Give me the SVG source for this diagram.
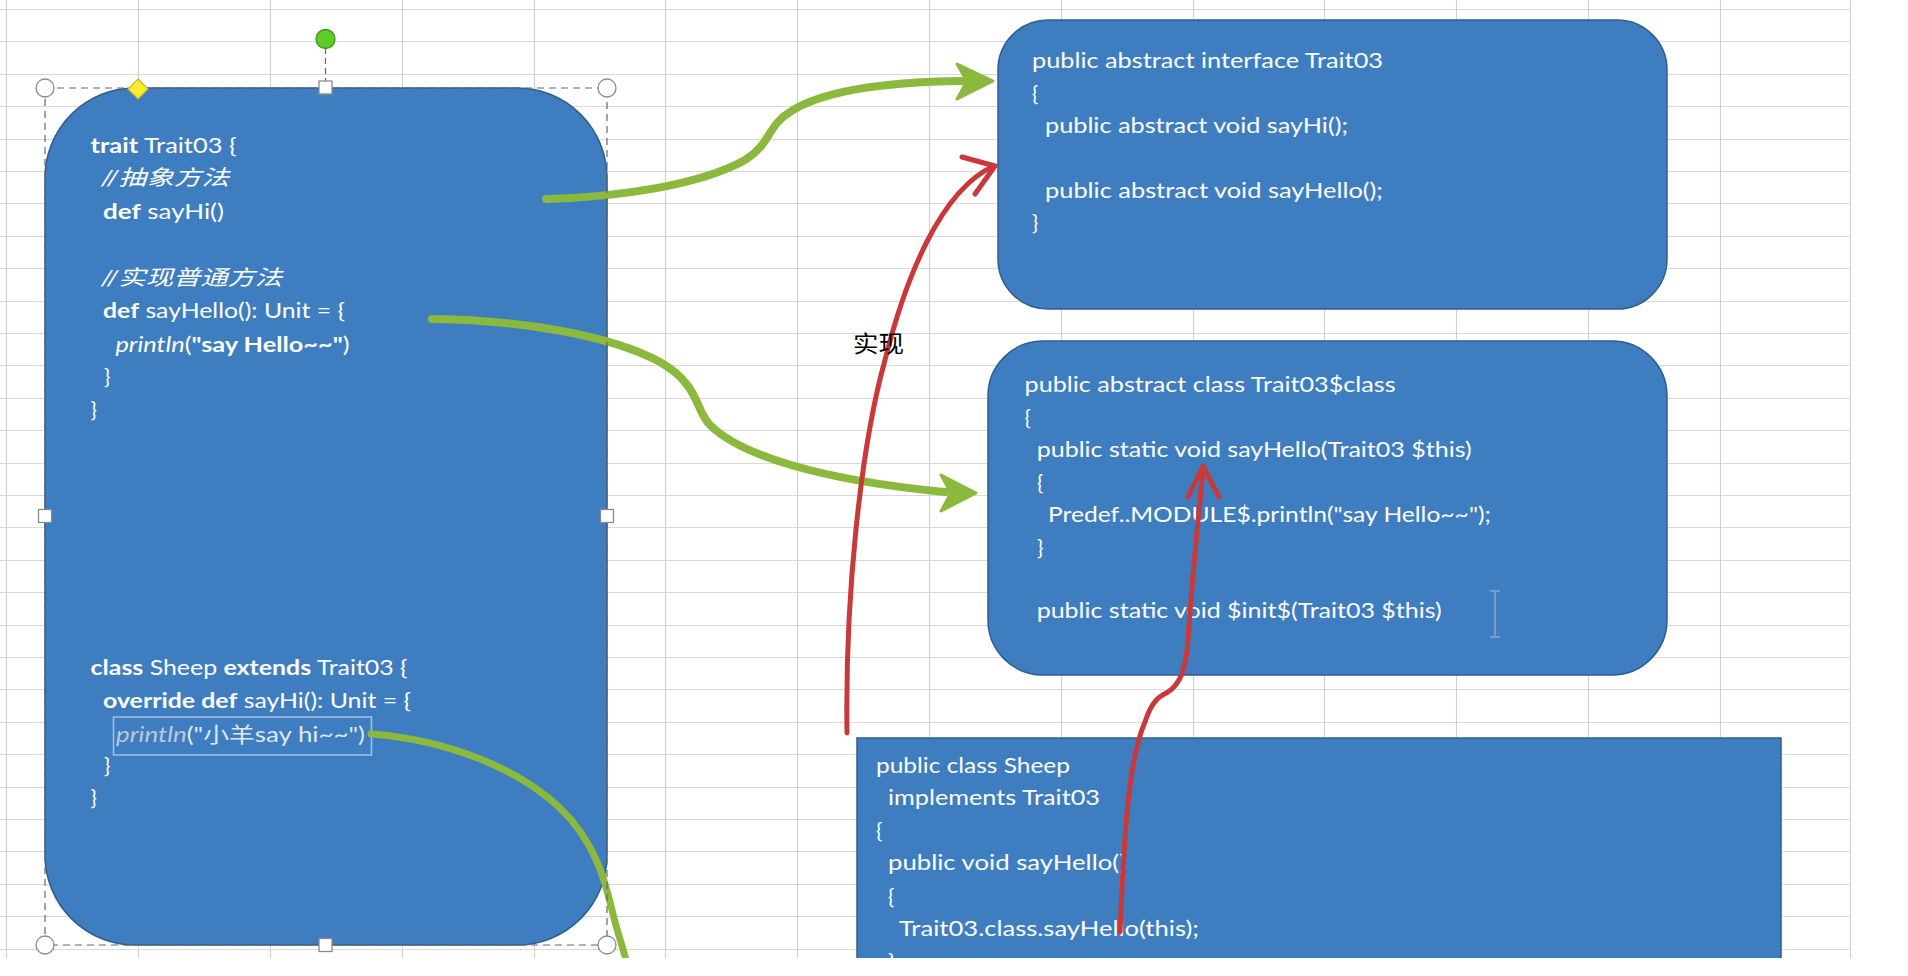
<svg xmlns="http://www.w3.org/2000/svg" width="1908" height="976" viewBox="0 0 1908 976">
<style>
.grid{stroke:#d9d9d9;stroke-width:1;fill:none}
.vgrid{stroke:#d2d2d2;stroke-width:1.2;fill:none}
.box{fill:#3e7ec0;stroke:#2f5e8e;stroke-width:1.5}
.code{font-family:Lato,'Noto Sans CJK SC',sans-serif;font-size:21px;fill:#ffffff}
.b{font-weight:bold}
.i{font-style:italic}
.green{fill:none;stroke:#8ab93e;stroke-width:8;stroke-linecap:round}
.greenhead{fill:#8ab93e;stroke:#8ab93e;stroke-width:3;stroke-linejoin:round}
.red{fill:none;stroke:#c9393c;stroke-width:5;stroke-linecap:round;stroke-linejoin:round}
.handle{fill:#ffffff;stroke:#8a8a8a;stroke-width:1.3}
</style>
<rect x="0" y="0" width="1908" height="976" fill="#ffffff"/>
<g id="grid">
<path class="grid" d="M0 9.5H1850M0 41.5H1850M0 74.5H1850M0 106.5H1850M0 139.5H1850M0 171.5H1850M0 203.5H1850M0 236.5H1850M0 268.5H1850M0 301.5H1850M0 333.5H1850M0 365.5H1850M0 398.5H1850M0 430.5H1850M0 463.5H1850M0 495.5H1850M0 527.5H1850M0 560.5H1850M0 592.5H1850M0 625.5H1850M0 657.5H1850M0 689.5H1850M0 722.5H1850M0 754.5H1850M0 787.5H1850M0 819.5H1850M0 851.5H1850M0 884.5H1850M0 916.5H1850M0 949.5H1850"/>
<path class="vgrid" d="M6.5 0V958M138.5 0V958M270.5 0V958M402.5 0V958M534.5 0V958M665.5 0V958M797.5 0V958M929.5 0V958M1061.5 0V958M1193.5 0V958M1324.5 0V958M1456.5 0V958M1588.5 0V958M1720.5 0V958M1850.5 0V958"/>
</g>
<g id="trait-box">
<rect class="box" x="45" y="88" width="562" height="857" rx="90" ry="90"/>
<text class="code" x="90.6" y="153" textLength="146" lengthAdjust="spacingAndGlyphs"><tspan class="b">trait</tspan> Trait03 {</text>
<text class="code i" x="101" y="185" textLength="128" lengthAdjust="spacingAndGlyphs">//抽象方法</text>
<text class="code" x="103" y="219" textLength="121" lengthAdjust="spacingAndGlyphs"><tspan class="b">def</tspan> sayHi()</text>
<text class="code i" x="101" y="285" textLength="181" lengthAdjust="spacingAndGlyphs">//实现普通方法</text>
<text class="code" x="103" y="318" textLength="242" lengthAdjust="spacingAndGlyphs"><tspan class="b">def</tspan> sayHello(): Unit = {</text>
<text class="code" x="115.5" y="352" textLength="234" lengthAdjust="spacingAndGlyphs"><tspan class="i">println</tspan>(<tspan class="b">"say Hello~~"</tspan>)</text>
<text class="code" x="104" y="384">}</text>
<text class="code" x="90.6" y="417">}</text>
<text class="code" x="90.6" y="675" textLength="317" lengthAdjust="spacingAndGlyphs"><tspan class="b">class</tspan> Sheep <tspan class="b">extends</tspan> Trait03 {</text>
<text class="code" x="103" y="708" textLength="308" lengthAdjust="spacingAndGlyphs"><tspan class="b">override def</tspan> sayHi(): Unit = {</text>
<rect x="113.5" y="717" width="258" height="38" fill="none" stroke="#a9c0dc" stroke-width="1.5"/>
<text class="code" x="116" y="742" textLength="249" lengthAdjust="spacingAndGlyphs" style="fill:#dfe7f1"><tspan class="i" style="fill:#b9c8da">println</tspan>("小羊say hi~~")</text>
<text class="code" x="104" y="773">}</text>
<text class="code" x="90.6" y="805">}</text>
</g>
<g id="interface-box">
<rect class="box" x="998" y="20" width="669" height="289" rx="50" ry="50"/>
<text class="code" x="1032" y="68" textLength="351" lengthAdjust="spacingAndGlyphs">public abstract interface Trait03</text>
<text class="code" x="1032" y="101">{</text>
<text class="code" x="1045" y="133" textLength="303" lengthAdjust="spacingAndGlyphs">public abstract void sayHi();</text>
<text class="code" x="1045" y="198" textLength="338" lengthAdjust="spacingAndGlyphs">public abstract void sayHello();</text>
<text class="code" x="1032" y="230">}</text>
</g>
<g id="trait-class-box">
<rect class="box" x="988" y="341" width="679" height="334" rx="55" ry="55"/>
<text class="code" x="1024.6" y="392" textLength="371" lengthAdjust="spacingAndGlyphs">public abstract class Trait03$class</text>
<text class="code" x="1024.6" y="425">{</text>
<text class="code" x="1036.7" y="457" textLength="435" lengthAdjust="spacingAndGlyphs">public static void sayHello(Trait03 $this)</text>
<text class="code" x="1037" y="490">{</text>
<text class="code" x="1048" y="522" textLength="443" lengthAdjust="spacingAndGlyphs">Predef..MODULE$.println("say Hello~~");</text>
<text class="code" x="1037" y="555">}</text>
<text class="code" x="1036.7" y="618" textLength="405" lengthAdjust="spacingAndGlyphs">public static void $init$(Trait03 $this)</text>
<g opacity="0.6" stroke="#9fb3d0" stroke-width="2" fill="none">
<path d="M1495 592V636M1490 591H1500M1490 637H1500"/>
</g>
</g>
<g id="sheep-box">
<rect class="box" x="857" y="738" width="924" height="250"/>
<text class="code" x="876" y="773" textLength="194" lengthAdjust="spacingAndGlyphs">public class Sheep</text>
<text class="code" x="888" y="805" textLength="212" lengthAdjust="spacingAndGlyphs">implements Trait03</text>
<text class="code" x="876" y="838">{</text>
<text class="code" x="888" y="870" textLength="238" lengthAdjust="spacingAndGlyphs">public void sayHello()</text>
<text class="code" x="888" y="904">{</text>
<text class="code" x="899" y="936" textLength="300" lengthAdjust="spacingAndGlyphs">Trait03.class.sayHello(this);</text>
<text class="code" x="888" y="969">}</text>
</g>
<g id="connectors">
<path class="green" d="M546 199C620 197 700 185 745 160C770 145 768 125 790 112C820 92 880 82 962 81"/>
<polygon class="greenhead" points="993,81 957,64 967,81 957,99"/>
<path class="green" d="M432 319C520 320 610 335 660 362C700 385 695 410 710 425C740 455 820 480 945 492"/>
<polygon class="greenhead" points="976,493 941,475 951,493 941,511"/>
<path class="green" style="stroke-width:7" d="M371 734C450 740 520 770 560 808C595 842 605 880 612 910C618 935 624 950 630 975"/>
<path class="red" d="M847 733C845 600 860 450 885 360C905 280 940 190 994 166"/>
<polyline class="red" points="962,157 995,166 975,194"/>
<path class="red" d="M1120 932C1124 840 1128 760 1145 722C1152 700 1160 696 1168 692C1180 684 1186 670 1188 640C1192 580 1198 520 1203 470"/>
<polyline class="red" points="1188,497 1203,466 1219,497"/>
</g>
<g id="label">
<text x="853" y="352" font-family="'Noto Sans CJK SC',sans-serif" font-size="23" fill="#000000" textLength="51" lengthAdjust="spacingAndGlyphs">实现</text>
</g>
<g id="selection">
<rect x="45" y="88" width="562" height="857" fill="none" stroke="#666666" stroke-width="1.2" stroke-dasharray="7 5"/>
<line x1="325.5" y1="48" x2="325.5" y2="82" stroke="#666666" stroke-width="1.2" stroke-dasharray="6 4"/>
<circle cx="325.5" cy="39" r="9.5" fill="#5bcc28" stroke="#3f9a1e" stroke-width="1.3"/>
<circle class="handle" cx="45" cy="88" r="9"/>
<circle class="handle" cx="607" cy="88" r="9"/>
<circle class="handle" cx="45" cy="945" r="9"/>
<circle class="handle" cx="607" cy="945" r="9"/>
<rect class="handle" x="319" y="81" width="13" height="13"/>
<rect class="handle" x="38.5" y="509.5" width="13" height="13"/>
<rect class="handle" x="600.5" y="509.5" width="13" height="13"/>
<rect class="handle" x="319" y="938.5" width="13" height="13"/>
<polygon points="138,79 148,89 138,99 128,89" fill="#f9ec2e" stroke="#c9b820" stroke-width="1.2"/>
</g>
<rect x="0" y="958" width="1908" height="18" fill="#ffffff"/>
<rect x="1851" y="0" width="57" height="976" fill="#ffffff"/>
</svg>
